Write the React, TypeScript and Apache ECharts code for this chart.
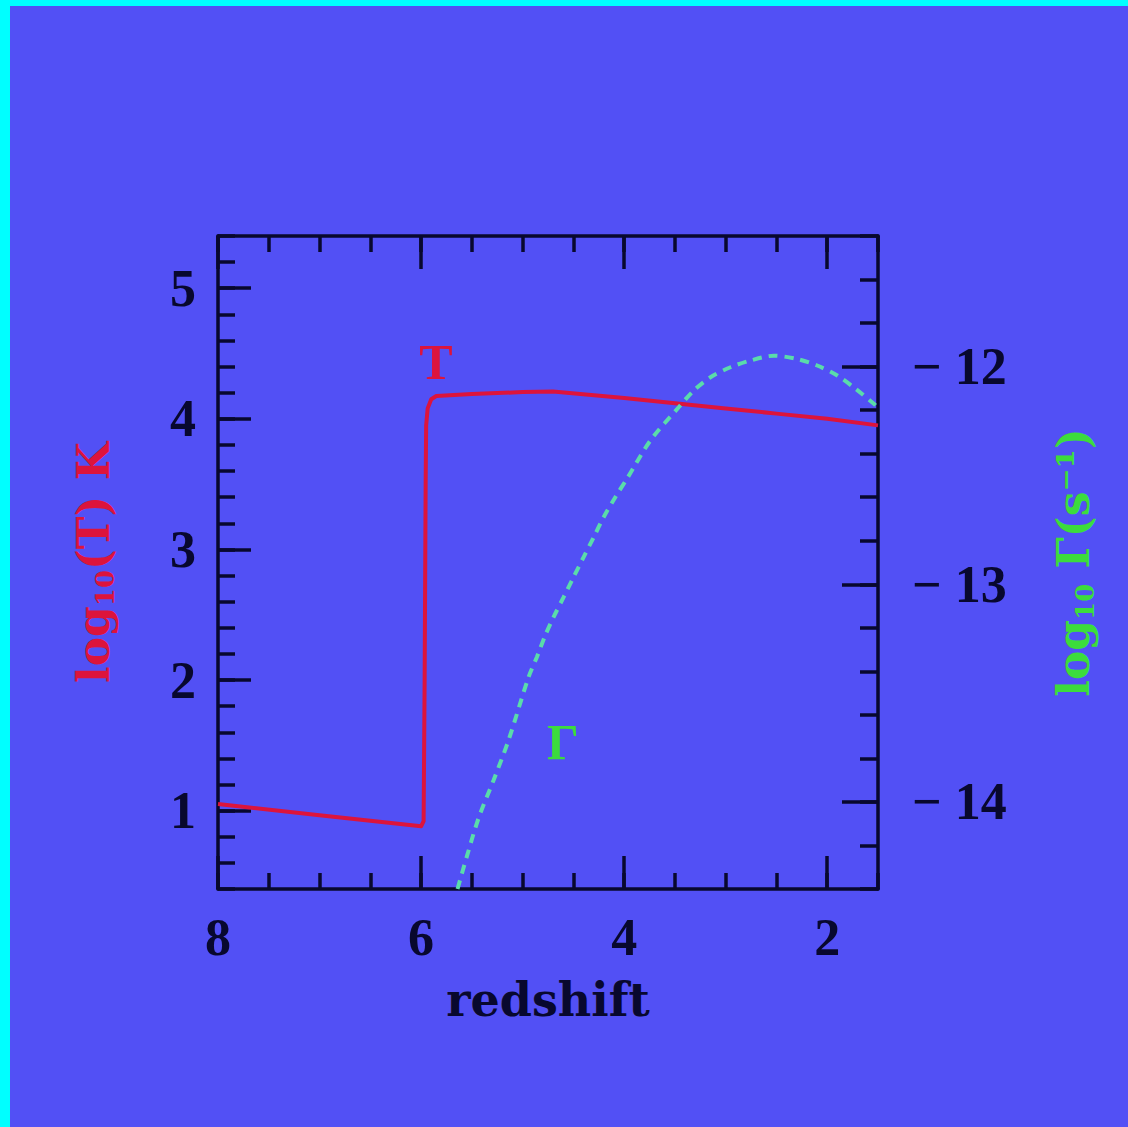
import React, { useEffect, useRef } from "react";
import * as echarts from "echarts";

// Gas temperature history: log10(T) in K against redshift
const redshiftT = [8, 7, 6.0, 5.975, 5.965, 5.955, 5.95, 5.935, 5.9, 5.85, 5.5, 5.0, 4.7, 4.0, 3.5, 3.0, 2.5, 2.0, 1.5];
const logT = [1.05, 0.965, 0.88, 0.92, 2.0, 3.5, 3.95, 4.08, 4.15, 4.175, 4.19, 4.205, 4.21, 4.16, 4.12, 4.08, 4.04, 4.0, 3.95];

// Photoionisation rate: log10 Gamma in s^-1 against redshift
const redshiftGamma = [5.641, 5.549, 5.434, 5.286, 5.139, 4.941, 4.859, 4.777, 4.695, 4.596, 4.498, 4.399, 4.3, 4.202, 4.087, 3.972, 3.742, 3.463, 3.315, 3.15, 2.953, 2.756, 2.526, 2.296, 2.099, 1.901, 1.721, 1.541, 1.5];
const logGamma = [-14.4, -14.25, -14.075, -13.9, -13.717, -13.426, -13.334, -13.235, -13.151, -13.059, -12.967, -12.875, -12.784, -12.692, -12.6, -12.515, -12.34, -12.187, -12.11, -12.049, -12.003, -11.972, -11.95, -11.965, -11.995, -12.041, -12.102, -12.171, -12.19];

// Tick positions
const xMajorTicks = [2, 4, 6, 8];
const xMinorTicks = [1.5, 2, 2.5, 3, 3.5, 4, 4.5, 5, 5.5, 6, 6.5, 7, 7.5, 8];
const leftMajorTicks = [1, 2, 3, 4, 5];
const leftMinorTicks = [0.4, 0.6, 0.8, 1, 1.2, 1.4, 1.6, 1.8, 2, 2.2, 2.4, 2.6, 2.8, 3, 3.2, 3.4, 3.6, 3.8, 4, 4.2, 4.4, 4.6, 4.8, 5, 5.2, 5.4];
const rightMajorTicks = [-14, -13, -12];
const rightMinorTicks = [-14.4, -14.2, -14, -13.8, -13.6, -13.4, -13.2, -13, -12.8, -12.6, -12.4, -12.2, -12, -11.8, -11.6, -11.4];

const BG = "#5250F5";
const INK = "#08082e";
const RED = "#DC143C";
const GREEN = "#3cdc3c";
const DASH = "#5adcaa";
const DIGITS = "'Liberation Serif', serif";
const NAMES = "'DejaVu Serif', serif";

const X_MIN = 1.5, X_MAX = 8;
const L_MIN = 0.4, L_MAX = 5.4;
const R_MIN = -14.4, R_MAX = -11.4;

export default function App() {
  const ref = useRef<HTMLDivElement>(null);

  useEffect(() => {
    if (!ref.current) return;
    const chart = echarts.init(ref.current, undefined, { renderer: "svg" });

    const tickStyle = { color: INK, width: 3.5 };
    const lineStyle = { color: INK, width: 3.5 };

    const xBase = (position: "top" | "bottom", ticks: number[], len: number, main: boolean) => ({
      type: "value" as const,
      position,
      inverse: true,
      min: X_MIN,
      max: X_MAX,
      splitLine: { show: false },
      axisLine: { show: main, onZero: false, lineStyle },
      axisTick: { show: true, inside: true, length: len, customValues: ticks, lineStyle: tickStyle },
      axisLabel: {
        show: main && position === "bottom",
        customValues: xMajorTicks,
        margin: 22,
        color: INK,
        fontSize: 52,
        fontWeight: "bold" as const,
        fontFamily: DIGITS,
      },
    });

    const option = {
      animation: false,
      backgroundColor: BG,
      grid: { left: 218, top: 236, width: 660, height: 653, outerBoundsMode: "none", containLabel: false },
      graphic: [
        { type: "rect", left: 0, top: 0, shape: { x: 0, y: 0, width: 1128, height: 6 }, style: { fill: "#00FFFF" } },
        { type: "rect", left: 0, top: 0, shape: { x: 0, y: 0, width: 10, height: 1127 }, style: { fill: "#00FFFF" } },
        {
          type: "text",
          x: 436,
          y: 362,
          style: { text: "T", fill: RED, font: `bold 50px ${DIGITS}`, textAlign: "center", textVerticalAlign: "middle" },
        },
        {
          type: "text",
          x: 563,
          y: 742,
          style: { text: "Γ", fill: GREEN, font: `bold 50px ${DIGITS}`, textAlign: "center", textVerticalAlign: "middle" },
        },
      ],
      xAxis: [
        {
          ...xBase("bottom", xMajorTicks, 33, true),
          name: "redshift",
          nameLocation: "middle",
          nameGap: 88,
          nameTextStyle: { color: INK, fontSize: 46, fontWeight: "bold", fontFamily: NAMES },
        },
        xBase("bottom", xMinorTicks, 16, false),
        xBase("top", xMajorTicks, 33, true),
        xBase("top", xMinorTicks, 16, false),
      ],
      yAxis: [
        {
          type: "value",
          position: "left",
          min: L_MIN,
          max: L_MAX,
          splitLine: { show: false },
          axisLine: { show: true, onZero: false, lineStyle },
          axisTick: { show: true, inside: true, length: 33, customValues: leftMajorTicks, lineStyle: tickStyle },
          axisLabel: {
            customValues: leftMajorTicks,
            margin: 22,
            color: INK,
            fontSize: 52,
            fontWeight: "bold",
            fontFamily: DIGITS,
          },
          name: "{m|log}{s|10}{m|(T) K}",
          nameLocation: "middle",
          nameRotate: 90,
          nameGap: 100,
          nameTextStyle: {
            rich: {
              m: { color: RED, fontSize: 44, fontWeight: "bold", fontFamily: NAMES, lineHeight: 50 },
              s: { color: RED, fontSize: 26, fontWeight: "bold", fontFamily: NAMES, lineHeight: 20, verticalAlign: "bottom" },
            },
          },
        },
        {
          type: "value",
          position: "right",
          min: R_MIN,
          max: R_MAX,
          splitLine: { show: false },
          axisLine: { show: true, onZero: false, lineStyle },
          axisTick: { show: true, inside: true, length: 36, customValues: rightMajorTicks, lineStyle: tickStyle },
          axisLabel: {
            customValues: rightMajorTicks,
            margin: 34,
            color: INK,
            fontSize: 52,
            fontWeight: "bold",
            fontFamily: DIGITS,
            formatter: (v: number) => "\u2212 " + Math.abs(v),
          },
          name: "{m|log}{s|10}{m| Γ(s⁻¹)}",
          nameLocation: "middle",
          nameRotate: 90,
          nameGap: 170,
          nameTextStyle: {
            rich: {
              m: { color: GREEN, fontSize: 44, fontWeight: "bold", fontFamily: NAMES, lineHeight: 50 },
              s: { color: GREEN, fontSize: 26, fontWeight: "bold", fontFamily: NAMES, lineHeight: 20, verticalAlign: "bottom" },
            },
          },
        },
        {
          type: "value",
          position: "left",
          min: L_MIN,
          max: L_MAX,
          splitLine: { show: false },
          axisLine: { show: false },
          axisLabel: { show: false },
          axisTick: { show: true, inside: true, length: 17, customValues: leftMinorTicks, lineStyle: tickStyle },
        },
        {
          type: "value",
          position: "right",
          min: R_MIN,
          max: R_MAX,
          splitLine: { show: false },
          axisLine: { show: false },
          axisLabel: { show: false },
          axisTick: { show: true, inside: true, length: 18, customValues: rightMinorTicks, lineStyle: tickStyle },
        },
      ],
      series: [
        {
          type: "line",
          xAxisIndex: 0,
          yAxisIndex: 0,
          data: redshiftT.map((z, i) => [z, logT[i]]),
          showSymbol: false,
          symbol: "none",
          lineStyle: { color: RED, width: 4, join: "round" },
          z: 3,
        },
        {
          type: "line",
          xAxisIndex: 0,
          yAxisIndex: 1,
          data: redshiftGamma.map((z, i) => [z, logGamma[i]]),
          showSymbol: false,
          symbol: "none",
          smooth: 0.3,
          lineStyle: { color: DASH, width: 4, type: [9, 7] },
          z: 4,
        },
      ],
    };

    chart.setOption(option as any);
    return () => chart.dispose();
  }, []);

  return (
    <div
      ref={ref}
      style={{ position: "fixed", left: 0, top: 0, width: 1128, height: 1127 }}
    />
  );
}
